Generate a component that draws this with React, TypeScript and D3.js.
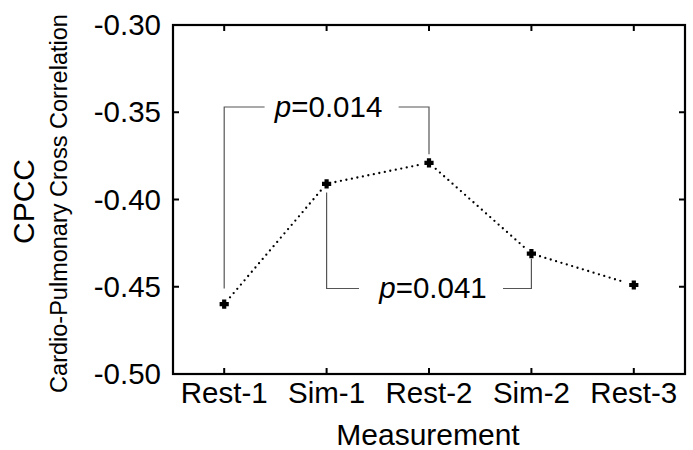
import React from "react";
import * as d3 from "d3";

const categories = ["Rest-1", "Sim-1", "Rest-2", "Sim-2", "Rest-3"];
const values = [-0.46, -0.391, -0.379, -0.431, -0.449];
const yTicks = [-0.3, -0.35, -0.4, -0.45, -0.5];
const brackets = [
  { from: 0, to: 2, label: "0.014", level: -0.347, fromEnd: -0.451, toEnd: -0.374, above: true },
  { from: 1, to: 3, label: "0.041", level: -0.451, fromEnd: -0.396, toEnd: -0.434, above: false },
];

const W = 693, H = 450;
const L = 173, R = 685, T = 25, B = 374;
const FONT = "Liberation Sans, Arial, Helvetica, sans-serif";

function plusPath(a: number, w: number) {
  const p = d3.path();
  p.moveTo(-w, -a); p.lineTo(w, -a); p.lineTo(w, -w); p.lineTo(a, -w); p.lineTo(a, w);
  p.lineTo(w, w); p.lineTo(w, a); p.lineTo(-w, a); p.lineTo(-w, w); p.lineTo(-a, w);
  p.lineTo(-a, -w); p.lineTo(-w, -w); p.closePath();
  return p.toString();
}

export default function App() {
  const x = d3.scalePoint<string>().domain(categories).range([L, R]).padding(0.5);
  const y = d3.scaleLinear().domain([-0.5, -0.3]).range([B, T]);
  const sym = plusPath(4.6, 2.1);
  const pts = categories.map((c, i) => [x(c)!, y(values[i])] as [number, number]);
  const gap = 9;
  const segs = pts.slice(1).map((p, i) => {
    const a = pts[i];
    const dx = p[0] - a[0], dy = p[1] - a[1];
    const len = Math.hypot(dx, dy);
    const ux = dx / len, uy = dy / len;
    return [a[0] + ux * gap, a[1] + uy * gap, p[0] - ux * gap, p[1] - uy * gap];
  });
  const tk = 6;
  const fmt = (t: number) => t.toFixed(2);
  return (
    <svg width={W} height={H} style={{ position: "absolute", left: 0, top: 0, background: "#fff" }} fontFamily={FONT}>
      <rect x={0} y={0} width={W} height={H} fill="#fff" />
      {brackets.map((b, i) => {
        const x1 = x(categories[b.from])!, x2 = x(categories[b.to])!;
        const yl = y(b.level);
        const tx = (x1 + x2) / 2 + (b.above ? 2 : 4);
        const half = b.above ? 70 : 74;
        return (
          <g key={i} stroke="#555" strokeWidth={1.2} fill="none">
            <path d={`M${x1},${y(b.fromEnd)}V${yl}H${tx - half + (b.above ? 6 : 0)}`} />
            <path d={`M${x2},${y(b.toEnd)}V${yl}H${tx + half - (b.above ? 0 : 4)}`} />
            <text x={tx} y={yl + 10} fill="#000" stroke="none" fontSize={29.5} textAnchor="middle">
              <tspan fontStyle="italic">p</tspan>={b.label}
            </text>
          </g>
        );
      })}
      {segs.map((s, i) => (
        <line key={i} x1={s[0]} y1={s[1]} x2={s[2]} y2={s[3]} stroke="#000" strokeWidth={2.3}
          strokeDasharray="0 5.6" strokeLinecap="round" />
      ))}
      {pts.map((p, i) => (
        <path key={i} d={sym} transform={`translate(${p[0]},${p[1]})`} fill="#000" />
      ))}
      <rect x={L} y={T} width={R - L} height={B - T} fill="none" stroke="#000" strokeWidth={2.2} />
      {categories.map((c) => (
        <g key={c}>
          <line x1={x(c)} x2={x(c)} y1={B} y2={B - tk} stroke="#000" strokeWidth={2} />
          <line x1={x(c)} x2={x(c)} y1={T} y2={T + tk} stroke="#000" strokeWidth={2} />
          <text x={x(c)} y={B + 29} fontSize={29.5} textAnchor="middle">{c}</text>
        </g>
      ))}
      {yTicks.map((t) => (
        <g key={t}>
          <line x1={L} x2={L + tk} y1={y(t)} y2={y(t)} stroke="#000" strokeWidth={2} />
          <line x1={R} x2={R - tk} y1={y(t)} y2={y(t)} stroke="#000" strokeWidth={2} />
          <text x={L - 12} y={y(t) + 10} fontSize={29.5} textAnchor="end">{fmt(t)}</text>
        </g>
      ))}
      <text x={(L + R) / 2 - 1} y={445} fontSize={30} textAnchor="middle">Measurement</text>
      <text transform={`translate(34,${(T + B) / 2 + 2}) rotate(-90)`} fontSize={30} textAnchor="middle">CPCC</text>
      <text transform={`translate(67,${(T + B) / 2 + 4}) rotate(-90)`} fontSize={23.5} textAnchor="middle">Cardio-Pulmonary Cross Correlation</text>
    </svg>
  );
}
